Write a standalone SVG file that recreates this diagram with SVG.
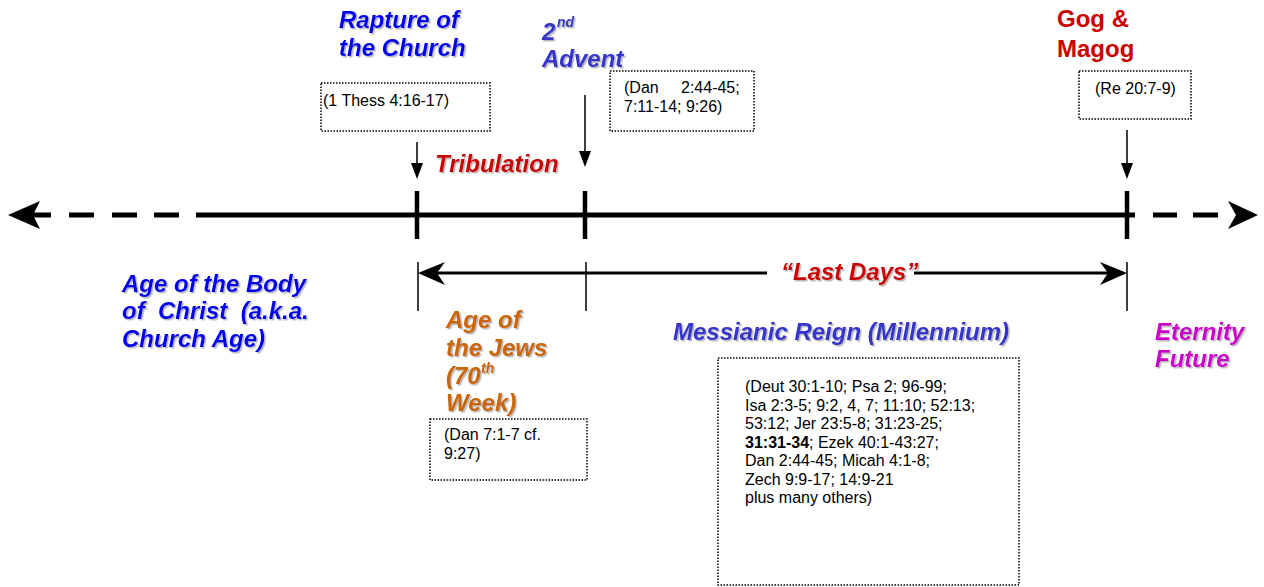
<svg xmlns="http://www.w3.org/2000/svg" width="1264" height="587" viewBox="0 0 1264 587">
<style>
text{font-family:"Liberation Sans",Arial,Helvetica,sans-serif}
.t{font-size:24px;font-weight:bold;font-style:italic}
.g{font-size:24px;font-weight:bold}
.sup{font-size:14px;font-weight:bold;font-style:italic}
.ref{font-size:16px;fill:#000}
.box{fill:none;stroke:#000;stroke-width:1.5;stroke-dasharray:1.5 1.5}
.blue{fill:#0000ee}
.indigo{fill:#3535cc}
.red{fill:#cc0000}
.orange{fill:#cc6600}
.mag{fill:#cc00cc}
.sh{filter:url(#shadow)}
</style>
<defs>
<filter id="shadow" x="-10%" y="-30%" width="130%" height="170%">
<feDropShadow dx="1.5" dy="1.5" stdDeviation="0.7" flood-color="#888" flood-opacity="0.6"/>
</filter>
</defs>

<g id="connectors" fill="#000" stroke="#000">
  <polygon points="8,215 40,201 33,215 40,229" stroke="none"/>
  <path d="M33,215 H51 M69,215 H94 M112,215 H137 M154,215 H179 M196,215 H1135 M1153,215 H1177 M1193,215 H1218" stroke-width="5" fill="none"/>
  <polygon points="1258,215 1228,201 1236,215 1228,229" stroke="none"/>
  <path d="M417,191 V239 M585,191 V239 M1127,191 V239" stroke-width="4.5" fill="none"/>
  <path d="M417,142 V164 M585,95 V152 M1127,130 V164" stroke-width="1.5" fill="none"/>
  <polygon points="411,163 423,163 417,179" stroke="none"/>
  <polygon points="579,151 591,151 585,167" stroke="none"/>
  <polygon points="1121,163 1133,163 1127,179" stroke="none"/>
  <path d="M418,262 V311 M586,262 V311 M1127,262 V311" stroke-width="1.5" fill="none"/>
  <path d="M436,273 H767 M914,273 H1110" stroke-width="3" fill="none"/>
  <polygon points="418,273 445,262 437,273 445,285" stroke="none"/>
  <polygon points="1127,273 1100,262 1108,273 1100,285" stroke="none"/>
</g>

<g id="rapture">
  <text class="t blue sh" x="339" y="28">Rapture of</text>
  <text class="t blue sh" x="339" y="56">the Church</text>
</g>
<g id="rapture-ref">
  <rect class="box" x="321" y="83" width="169" height="48"/>
  <text class="ref" x="323" y="106">(1 Thess 4:16-17)</text>
</g>

<g id="advent">
  <text class="t indigo sh" x="542" y="40">2</text>
  <text class="sup indigo sh" x="557" y="27">nd</text>
  <text class="t indigo sh" x="542" y="67">Advent</text>
</g>
<g id="advent-ref">
  <rect class="box" x="610" y="71" width="144" height="60"/>
  <text class="ref" x="624" y="93">(Dan</text>
  <text class="ref" x="681" y="93">2:44-45;</text>
  <text class="ref" x="624" y="112">7:11-14; 9:26)</text>
</g>

<g id="tribulation">
  <text class="t red sh" x="435" y="172">Tribulation</text>
</g>

<g id="gog">
  <text class="g red" x="1057" y="27">Gog &amp;</text>
  <text class="g red" x="1057" y="57">Magog</text>
</g>
<g id="gog-ref">
  <rect class="box" x="1079" y="71" width="112" height="48"/>
  <text class="ref" x="1095" y="94">(Re 20:7-9)</text>
</g>

<g id="last-days">
  <text class="t red sh" x="781" y="280">“Last Days”</text>
</g>

<g id="church-age">
  <text class="t blue sh" x="122" y="292">Age of the Body</text>
  <text class="t blue sh" x="122" y="319" xml:space="preserve">of  Christ  (a.k.a.</text>
  <text class="t blue sh" x="122" y="347">Church Age)</text>
</g>

<g id="jews">
  <text class="t orange sh" x="446" y="328">Age of</text>
  <text class="t orange sh" x="446" y="356">the Jews</text>
  <text class="t orange sh" x="446" y="384">(70</text>
  <text class="sup orange sh" x="481" y="373">th</text>
  <text class="t orange sh" x="446" y="411">Week)</text>
</g>
<g id="jews-ref">
  <rect class="box" x="430" y="419" width="157" height="61"/>
  <text class="ref" x="444" y="440">(Dan 7:1-7 cf.</text>
  <text class="ref" x="444" y="459">9:27)</text>
</g>

<g id="millennium">
  <text class="t indigo sh" x="673" y="340">Messianic Reign (Millennium)</text>
</g>
<g id="millennium-ref">
  <rect class="box" x="718" y="358" width="301" height="227"/>
  <text class="ref" x="745" y="392">(Deut 30:1-10; Psa 2; 96-99;</text>
  <text class="ref" x="745" y="410.5">Isa 2:3-5; 9:2, 4, 7; 11:10; 52:13;</text>
  <text class="ref" x="745" y="429">53:12; Jer 23:5-8; 31:23-25;</text>
  <text class="ref" x="745" y="447.5"><tspan font-weight="bold">31:31-34</tspan>; Ezek 40:1-43:27;</text>
  <text class="ref" x="745" y="466">Dan 2:44-45; Micah 4:1-8;</text>
  <text class="ref" x="745" y="484.5">Zech 9:9-17; 14:9-21</text>
  <text class="ref" x="745" y="503">plus many others)</text>
</g>

<g id="eternity">
  <text class="t mag sh" x="1155" y="340">Eternity</text>
  <text class="t mag sh" x="1155" y="367">Future</text>
</g>
</svg>
